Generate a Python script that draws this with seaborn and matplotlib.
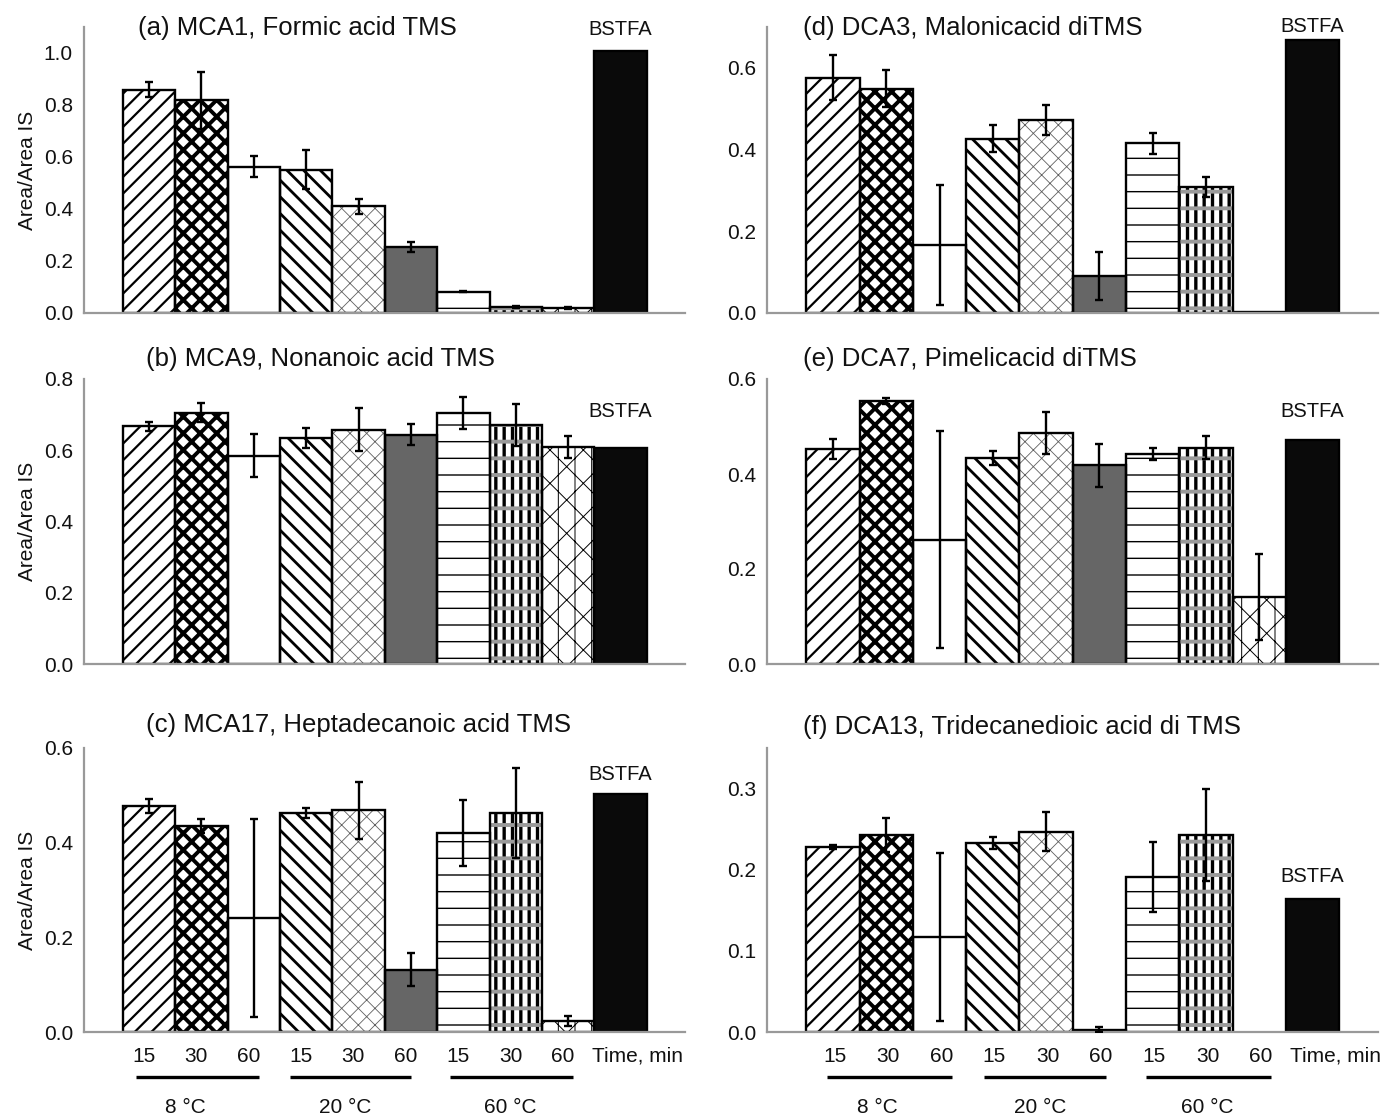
# Derivatisation efficiency panels (a)-(f): Area/Area IS by temperature and time

import numpy as np
import pandas as pd
import seaborn as sns
import matplotlib.pyplot as plt
from matplotlib import transforms

# =========================================
# DATA
# =========================================

conditions = ['8C_15', '8C_30', '8C_60',
              '20C_15', '20C_30', '20C_60',
              '60C_15', '60C_30', '60C_60', 'BSTFA']

time_labels = ['15', '30', '60', '15', '30', '60', '15', '30', '60']
temp_labels = ['8 °C', '20 °C', '60 °C']

mca1_vals = [0.859, 0.818, 0.562, 0.551, 0.410, 0.254, 0.082, 0.023, 0.018, 1.006]
mca1_err = [0.030, 0.110, 0.040, 0.075, 0.030, 0.020, 0.003, 0.004, 0.004, np.nan]

mca9_vals = [0.667, 0.705, 0.585, 0.634, 0.658, 0.644, 0.705, 0.671, 0.609, 0.607]
mca9_err = [0.013, 0.027, 0.060, 0.029, 0.060, 0.030, 0.045, 0.058, 0.031, np.nan]

mca17_vals = [0.477, 0.436, 0.241, 0.463, 0.468, 0.132, 0.421, 0.463, 0.023, 0.502]
mca17_err = [0.015, 0.015, 0.210, 0.010, 0.060, 0.035, 0.070, 0.095, 0.010, np.nan]

dca3_vals = [0.576, 0.549, 0.167, 0.427, 0.472, 0.091, 0.415, 0.308, 0.003, 0.669]
dca3_err = [0.055, 0.045, 0.147, 0.032, 0.036, 0.058, 0.025, 0.025, np.nan, np.nan]

dca7_vals = [0.452, 0.553, 0.262, 0.434, 0.487, 0.418, 0.442, 0.455, 0.141, 0.471]
dca7_err = [0.021, 0.006, 0.228, 0.015, 0.044, 0.046, 0.012, 0.024, 0.090, np.nan]

dca13_vals = [0.228, 0.243, 0.117, 0.233, 0.247, 0.003, 0.191, 0.243, 0.0, 0.164]
dca13_err = [0.002, 0.021, 0.104, 0.007, 0.024, 0.003, 0.043, 0.057, np.nan, np.nan]

titles = ['(a) MCA1, Formic acid TMS',
          '(b) MCA9, Nonanoic acid TMS',
          '(c) MCA17, Heptadecanoic acid TMS',
          '(d) DCA3, Malonicacid diTMS',
          '(e) DCA7, Pimelicacid diTMS',
          '(f) DCA13, Tridecanedioic acid di TMS']

# =========================================
# STYLE PER CONDITION
# =========================================

face_colors = ['white', 'white', 'white', 'white', 'white',
               '#666666', 'white', 'white', 'white', '#0a0a0a']
hatches = ['//', 'xx', '', '\\\\', 'xx', '', '-', '||', 'x|', '']
hatch_colors = ['black', 'black', 'black', 'black', '#606060',
                'black', 'black', 'black', 'black', 'black']
hatch_widths = [1.6, 2.8, 1.0, 2.0, 0.6, 1.0, 1.0, 2.4, 0.7, 1.0]

W, H = 1381, 1116

# =========================================
# FIGURE
# =========================================

sns.set_style('white')
plt.rcParams['font.family'] = ['Liberation Sans', 'DejaVu Sans']

fig = plt.figure(figsize=(W / 100, H / 100), dpi=100)

# axes boxes in pixels: left, top, right, bottom
boxes = [(84, 27, 685, 313), (84, 379, 685, 664), (84, 748, 685, 1032),
         (767, 27, 1378, 313), (767, 379, 1378, 664), (767, 748, 1378, 1032)]
ylims = [1.1, 0.8, 0.6, 0.7, 0.6, 0.35]
ysteps = [0.2, 0.2, 0.2, 0.2, 0.2, 0.1]
title_pos = [(138, 28), (146, 359), (146, 725),
             (803, 28), (803, 359), (803, 727)]
bstfa_y = [1.09, 0.709, 0.543, 0.70, 0.532, 0.192]

panel_vals = [mca1_vals, mca9_vals, mca17_vals, dca3_vals, dca7_vals, dca13_vals]
panel_err = [mca1_err, mca9_err, mca17_err, dca3_err, dca7_err, dca13_err]

x = np.arange(len(conditions))

for k in range(6):
    l, t, r, b = boxes[k]
    ax = fig.add_axes([l / W, 1 - b / H, (r - l) / W, (b - t) / H])

    df = pd.DataFrame({'cond': conditions, 'value': panel_vals[k]})

    sns.barplot(
        data=df, x='cond', y='value', hue='cond',
        order=conditions, hue_order=conditions,
        palette=dict(zip(conditions, face_colors)),
        width=1.0, saturation=1, errorbar=None,
        legend=False, linewidth=0, ax=ax
    )

    bars = sorted(ax.patches, key=lambda p: p.get_x())
    for i, p in enumerate(bars):
        p.set_hatch(hatches[i])
        p.set_edgecolor(hatch_colors[i])
        p.set_linewidth(0)
        if hasattr(p, 'set_hatch_linewidth'):
            p.set_hatch_linewidth(hatch_widths[i])

    # gray bands of the plaid pattern (60 C, 30 min)
    with plt.rc_context({'hatch.linewidth': 2.8}):
        band = ax.bar(x[7], panel_vals[k][7], width=1.0, fill=False,
                      hatch='-', edgecolor='#9a9a9a', linewidth=0)
    for p in band:
        if hasattr(p, 'set_hatch_linewidth'):
            p.set_hatch_linewidth(2.8)

    # black outlines
    vals = np.array(panel_vals[k])
    ax.bar(x, vals, width=1.0, fill=False, edgecolor='black',
           linewidth=np.where(vals > 0, 1.7, 0))

    ax.errorbar(x, vals, yerr=panel_err[k], fmt='none', ecolor='black',
                elinewidth=1.7, capsize=3.2, capthick=1.7, zorder=3)

    ax.text(9, bstfa_y[k], 'BSTFA', ha='center', va='center', fontsize=14.5,
            color='#111111')

    ax.set_xlim(-1.24, 10.23)
    ax.set_ylim(0, ylims[k])
    ax.set_yticks(np.arange(0, ylims[k] + 1e-6, ysteps[k]))
    ax.yaxis.set_major_formatter(plt.FormatStrFormatter('%.1f'))
    ax.set_xticks([-1.24, 10.23])
    ax.set_xticklabels(['', ''])
    ax.set_xlabel('')
    ax.set_ylabel('Area/Area IS' if k < 3 else '', fontsize=15, labelpad=5,
                  color='#111111')

    sns.despine(ax=ax)
    for side in ['left', 'bottom']:
        ax.spines[side].set_color('#999999')
        ax.spines[side].set_linewidth(1.6)
    ax.tick_params(axis='both', colors='#999999', length=5, width=1.4,
                   labelsize=15, labelcolor='#111111', pad=3)
    ax.tick_params(axis='x', direction='out')

    tx, ty = title_pos[k]
    fig.text(tx / W, 1 - ty / H, titles[k], ha='left', va='center',
             fontsize=18.5, color='#111111')

    # time / temperature annotation under the bottom panels
    if k in (2, 5):
        shift = -0.1 if k == 2 else 0.03
        trans = transforms.blended_transform_factory(ax.transData, ax.transAxes)
        for i, lab in enumerate(time_labels):
            ax.text(i + shift, -0.085, lab, transform=trans, ha='center',
                    va='center', fontsize=15, color='#111111')
        ax.text(8.5 + shift + 0.05, -0.085, 'Time, min', transform=trans,
                ha='left', va='center', fontsize=15, color='#111111')
        spans = [(-0.15, 2.2), (2.8, 5.1), (5.85, 8.2)]
        temp_x = [0.8, 3.85, 7.0]
        for (s0, s1), tx_, lab in zip(spans, temp_x, temp_labels):
            ax.plot([s0 + shift, s1 + shift], [-0.158, -0.158], transform=trans,
                    color='black', lw=2.4, clip_on=False, solid_capstyle='butt')
            ax.text(tx_ + shift, -0.265, lab, transform=trans, ha='center',
                    va='center', fontsize=15, color='#111111')

plt.savefig('out.png', dpi=100)
